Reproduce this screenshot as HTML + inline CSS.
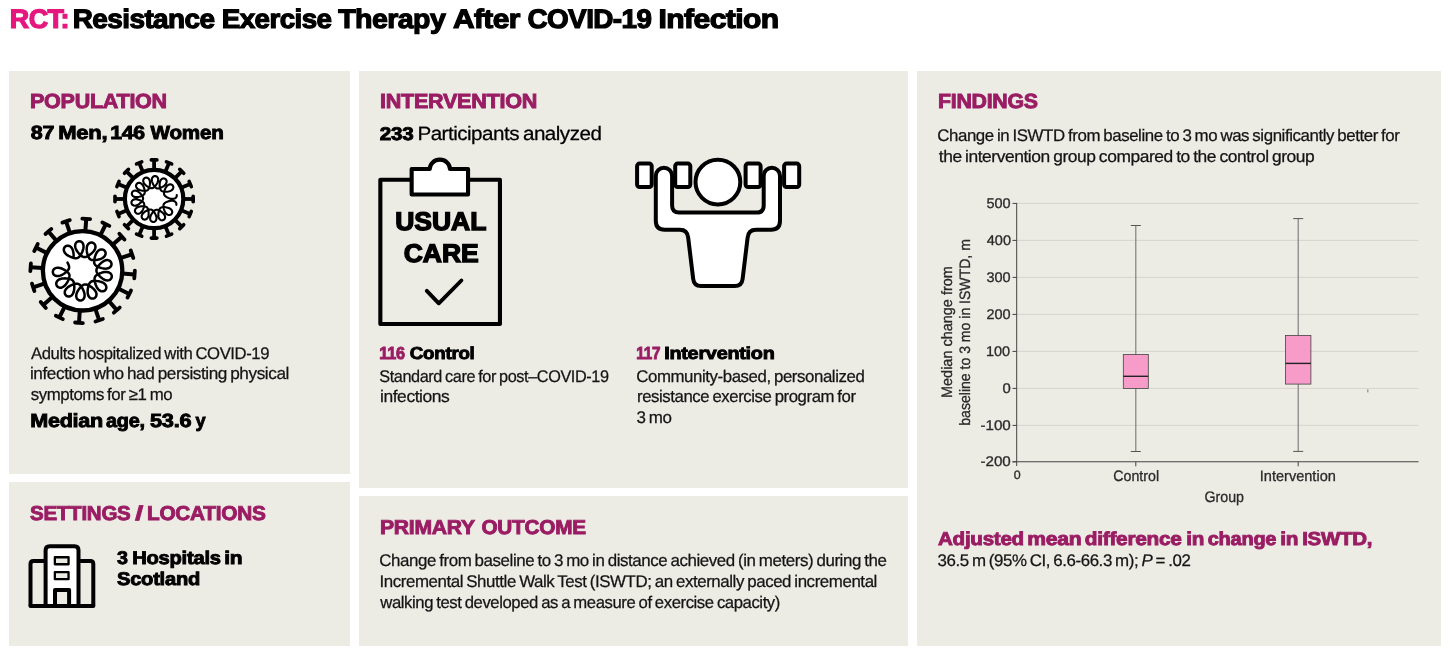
<!DOCTYPE html>
<html lang="en">
<head>
<meta charset="utf-8">
<title>RCT: Resistance Exercise Therapy After COVID-19 Infection</title>
<style>
html,body{margin:0;padding:0;background:#fff;}
body{width:1449px;height:655px;position:relative;overflow:hidden;font-family:"Liberation Sans",Arial,sans-serif;color:#141414;}
.panel{position:absolute;background:#ecebe4;margin:0;}
h1,h2,p{margin:0;padding:0;font-size:0;line-height:0;font-weight:400;}
.t{position:absolute;margin:0;padding:0;white-space:nowrap;text-rendering:geometricPrecision;transform-origin:0 0;font-style:normal;display:block;}
.t i{font-style:italic;}
.t b{font-weight:inherit;}
svg{position:absolute;overflow:visible;}
</style>
</head>
<body>

<header>
<h1>
<span class="t" style="left:10.60px;top:29.10px;font-size:26.81px;line-height:33px;font-weight:700;color:#e5177f;transform:scaleX(1.0044) translate(-1.25px,-25.54px);-webkit-text-stroke:1.2px #e5177f;letter-spacing:-0.02em;">RCT:</span>
 
<span class="t" style="left:74.20px;top:29.10px;font-size:26.81px;line-height:33px;font-weight:700;color:#000;transform:scaleX(1.0415) translate(-1.25px,-25.54px);-webkit-text-stroke:1.2px #000;letter-spacing:-0.02em;">Resistance</span>
 
<span class="t" style="left:223.00px;top:29.10px;font-size:26.81px;line-height:33px;font-weight:700;color:#000;transform:scaleX(1.0352) translate(-1.25px,-25.54px);-webkit-text-stroke:1.2px #000;letter-spacing:-0.02em;">Exercise</span>
 
<span class="t" style="left:338.30px;top:29.10px;font-size:26.81px;line-height:33px;font-weight:700;color:#000;transform:scaleX(1.0647) translate(0.25px,-25.54px);-webkit-text-stroke:1.2px #000;letter-spacing:-0.02em;">Therapy</span>
 
<span class="t" style="left:453.40px;top:29.10px;font-size:26.81px;line-height:33px;font-weight:700;color:#000;transform:scaleX(1.1157) translate(-0.00px,-25.54px);-webkit-text-stroke:1.2px #000;letter-spacing:-0.02em;">After</span>
 
<span class="t" style="left:527.80px;top:29.10px;font-size:26.81px;line-height:33px;font-weight:700;color:#000;transform:scaleX(1.0387) translate(-0.50px,-25.54px);-webkit-text-stroke:1.2px #000;letter-spacing:-0.02em;">COVID-19</span>
 
<span class="t" style="left:659.70px;top:29.10px;font-size:26.81px;line-height:33px;font-weight:700;color:#000;transform:scaleX(1.1219) translate(-1.25px,-25.54px);-webkit-text-stroke:1.2px #000;letter-spacing:-0.02em;">Infection</span>
</h1>
</header>
<main>
<section class="panel" id="p1" style="left:9px;top:71px;width:341px;height:403px">
<svg style="left:0;top:0" width="341" height="403" viewBox="9 71 341 403">
<g>
<line x1="154.10" y1="169.80" x2="154.10" y2="159.90" stroke="#000" stroke-width="3.8"/>
<line x1="151.30" y1="159.90" x2="156.90" y2="159.90" stroke="#000" stroke-width="3.6" stroke-linecap="round"/>
<line x1="165.27" y1="172.02" x2="169.06" y2="162.88" stroke="#000" stroke-width="3.8"/>
<line x1="166.48" y1="161.80" x2="171.65" y2="163.95" stroke="#000" stroke-width="3.6" stroke-linecap="round"/>
<line x1="174.75" y1="178.35" x2="181.75" y2="171.35" stroke="#000" stroke-width="3.8"/>
<line x1="179.77" y1="169.37" x2="183.73" y2="173.33" stroke="#000" stroke-width="3.6" stroke-linecap="round"/>
<line x1="181.08" y1="187.83" x2="190.22" y2="184.04" stroke="#000" stroke-width="3.8"/>
<line x1="189.15" y1="181.45" x2="191.30" y2="186.62" stroke="#000" stroke-width="3.6" stroke-linecap="round"/>
<line x1="183.30" y1="199.00" x2="193.20" y2="199.00" stroke="#000" stroke-width="3.8"/>
<line x1="193.20" y1="196.20" x2="193.20" y2="201.80" stroke="#000" stroke-width="3.6" stroke-linecap="round"/>
<line x1="181.08" y1="210.17" x2="190.22" y2="213.96" stroke="#000" stroke-width="3.8"/>
<line x1="191.30" y1="211.38" x2="189.15" y2="216.55" stroke="#000" stroke-width="3.6" stroke-linecap="round"/>
<line x1="174.75" y1="219.65" x2="181.75" y2="226.65" stroke="#000" stroke-width="3.8"/>
<line x1="183.73" y1="224.67" x2="179.77" y2="228.63" stroke="#000" stroke-width="3.6" stroke-linecap="round"/>
<line x1="165.27" y1="225.98" x2="169.06" y2="235.12" stroke="#000" stroke-width="3.8"/>
<line x1="171.65" y1="234.05" x2="166.48" y2="236.20" stroke="#000" stroke-width="3.6" stroke-linecap="round"/>
<line x1="154.10" y1="228.20" x2="154.10" y2="238.10" stroke="#000" stroke-width="3.8"/>
<line x1="156.90" y1="238.10" x2="151.30" y2="238.10" stroke="#000" stroke-width="3.6" stroke-linecap="round"/>
<line x1="142.93" y1="225.98" x2="139.14" y2="235.12" stroke="#000" stroke-width="3.8"/>
<line x1="141.72" y1="236.20" x2="136.55" y2="234.05" stroke="#000" stroke-width="3.6" stroke-linecap="round"/>
<line x1="133.45" y1="219.65" x2="126.45" y2="226.65" stroke="#000" stroke-width="3.8"/>
<line x1="128.43" y1="228.63" x2="124.47" y2="224.67" stroke="#000" stroke-width="3.6" stroke-linecap="round"/>
<line x1="127.12" y1="210.17" x2="117.98" y2="213.96" stroke="#000" stroke-width="3.8"/>
<line x1="119.05" y1="216.55" x2="116.90" y2="211.38" stroke="#000" stroke-width="3.6" stroke-linecap="round"/>
<line x1="124.90" y1="199.00" x2="115.00" y2="199.00" stroke="#000" stroke-width="3.8"/>
<line x1="115.00" y1="201.80" x2="115.00" y2="196.20" stroke="#000" stroke-width="3.6" stroke-linecap="round"/>
<line x1="127.12" y1="187.83" x2="117.98" y2="184.04" stroke="#000" stroke-width="3.8"/>
<line x1="116.90" y1="186.62" x2="119.05" y2="181.45" stroke="#000" stroke-width="3.6" stroke-linecap="round"/>
<line x1="133.45" y1="178.35" x2="126.45" y2="171.35" stroke="#000" stroke-width="3.8"/>
<line x1="124.47" y1="173.33" x2="128.43" y2="169.37" stroke="#000" stroke-width="3.6" stroke-linecap="round"/>
<line x1="142.93" y1="172.02" x2="139.14" y2="162.88" stroke="#000" stroke-width="3.8"/>
<line x1="136.55" y1="163.95" x2="141.72" y2="161.80" stroke="#000" stroke-width="3.6" stroke-linecap="round"/>
<circle cx="154.1" cy="199.0" r="29.2" fill="#fff" stroke="#000" stroke-width="4.2"/>
<path d="M176.32 204.95 L176.42 204.24 L176.35 203.53 L176.11 202.85 L175.71 202.22 L175.17 201.69 L174.50 201.27 L173.73 200.97 L172.87 200.79 L171.96 200.73 L171.01 200.77 L170.05 200.90 L169.10 201.11 L168.18 201.38 L167.30 201.69 L166.49 202.03 L165.76 202.39 L165.12 202.78 L164.58 203.20 L164.15 203.65 L163.82 204.14 L163.60 204.69 L163.47 205.31 L163.43 205.99 L163.46 206.73 L163.57 207.54 L163.75 208.40 L163.99 209.30 L164.28 210.21 L164.65 211.11 L165.07 211.98 L165.57 212.79 L166.14 213.51 L166.77 214.12 L167.45 214.59 L168.18 214.91 L168.92 215.06 L169.66 215.04 L170.36 214.85 L170.99 214.50 L171.52 214.02 L171.92 213.43 L172.17 212.75 L172.25 212.03 L172.16 211.30 L171.91 210.59 L171.48 209.91 L170.92 209.30 L170.23 208.77 L169.43 208.32 L168.56 207.94 L167.63 207.65 L166.69 207.42 L165.74 207.26 L164.82 207.16 L163.94 207.11 L163.13 207.12 L162.38 207.20 L161.72 207.34 L161.13 207.56 L160.62 207.86 L160.18 208.26 L159.79 208.75 L159.46 209.35 L159.17 210.04 L158.92 210.81 L158.70 211.66 L158.52 212.57 L158.40 213.52 L158.33 214.49 L158.34 215.46 L158.43 216.41 L158.63 217.30 L158.93 218.12 L159.35 218.84 L159.86 219.45 L160.47 219.91 L161.14 220.21 L161.85 220.34 L162.57 220.30 L163.26 220.10 L163.87 219.74 L164.39 219.24 L164.78 218.63 L165.02 217.93 L165.10 217.17 L165.01 216.39 L164.77 215.59 L164.37 214.81 L163.86 214.05 L163.23 213.34 L162.53 212.67 L161.77 212.06 L160.99 211.50 L160.21 211.01 L159.44 210.59 L158.70 210.24 L158.00 209.98 L157.34 209.82 L156.71 209.76 L156.12 209.81 L155.55 209.98 L154.99 210.26 L154.43 210.65 L153.87 211.14 L153.30 211.73 L152.74 212.40 L152.18 213.15 L151.66 213.95 L151.17 214.79 L150.76 215.67 L150.43 216.56 L150.22 217.45 L150.14 218.32 L150.20 219.15 L150.40 219.92 L150.75 220.60 L151.22 221.16 L151.81 221.59 L152.47 221.87 L153.17 221.98 L153.89 221.93 L154.57 221.70 L155.18 221.32 L155.70 220.80 L156.10 220.15 L156.37 219.40 L156.49 218.58 L156.48 217.70 L156.34 216.80 L156.09 215.88 L155.75 214.98 L155.33 214.10 L154.87 213.26 L154.38 212.47 L153.87 211.76 L153.35 211.12 L152.83 210.58 L152.31 210.15 L151.77 209.83 L151.22 209.62 L150.63 209.52 L150.00 209.52 L149.33 209.63 L148.61 209.84 L147.85 210.12 L147.05 210.48 L146.22 210.91 L145.40 211.40 L144.60 211.95 L143.84 212.56 L143.17 213.22 L142.59 213.93 L142.13 214.68 L141.82 215.45 L141.68 216.23 L141.69 216.99 L141.87 217.71 L142.21 218.35 L142.69 218.88 L143.27 219.29 L143.94 219.55 L144.65 219.65 L145.37 219.57 L146.07 219.32 L146.71 218.92 L147.27 218.36 L147.74 217.67 L148.11 216.88 L148.38 216.00 L148.55 215.07 L148.64 214.10 L148.65 213.13 L148.60 212.17 L148.50 211.25 L148.35 210.39 L148.16 209.59 L147.92 208.88 L147.64 208.26 L147.30 207.74 L146.89 207.31 L146.40 206.96 L145.84 206.70 L145.18 206.50 L144.45 206.37 L143.63 206.30 L142.76 206.27 L141.83 206.30 L140.88 206.38 L139.91 206.53 L138.97 206.75 L138.07 207.05 L137.24 207.44 L136.51 207.92 L135.89 208.48 L135.42 209.12 L135.11 209.81 L134.96 210.53 L134.98 211.25 L135.18 211.95 L135.53 212.57 L136.02 213.09 L136.62 213.49 L137.30 213.73 L138.03 213.81 L138.79 213.72 L139.54 213.46 L140.26 213.05 L140.94 212.50 L141.56 211.82 L142.12 211.06 L142.61 210.23 L143.05 209.36 L143.42 208.47 L143.73 207.60 L143.97 206.75 L144.14 205.96 L144.24 205.21 L144.25 204.53 L144.18 203.91 L143.99 203.35 L143.71 202.82 L143.31 202.34 L142.81 201.88 L142.20 201.44 L141.50 201.02 L140.72 200.62 L139.88 200.24 L138.98 199.90 L138.05 199.61 L137.10 199.40 L136.16 199.28 L135.25 199.27 L134.38 199.38 L133.58 199.62 L132.88 199.99 L132.30 200.47 L131.85 201.06 L131.56 201.72 L131.43 202.43 L131.48 203.15 L131.69 203.83 L132.06 204.45 L132.56 204.96 L133.19 205.35 L133.91 205.60 L134.70 205.69 L135.53 205.64 L136.38 205.43 L137.23 205.10 L138.07 204.65 L138.88 204.12 L139.64 203.52 L140.36 202.89 L141.02 202.23 L141.61 201.58 L142.11 200.94 L142.52 200.31 L142.83 199.70 L143.03 199.11 L143.11 198.52 L143.08 197.93 L142.93 197.32 L142.68 196.69 L142.32 196.03 L141.88 195.34 L141.35 194.64 L140.75 193.93 L140.09 193.24 L139.38 192.58 L138.62 191.97 L137.82 191.46 L137.00 191.05 L136.17 190.77 L135.35 190.64 L134.56 190.66 L133.82 190.85 L133.17 191.18 L132.61 191.65 L132.19 192.24 L131.92 192.90 L131.82 193.61 L131.88 194.32 L132.11 195.01 L132.51 195.63 L133.05 196.17 L133.71 196.59 L134.49 196.90 L135.34 197.09 L136.26 197.16 L137.20 197.12 L138.16 196.99 L139.12 196.79 L140.04 196.53 L140.92 196.22 L141.73 195.89 L142.46 195.53 L143.10 195.15 L143.64 194.73 L144.08 194.28 L144.41 193.79 L144.64 193.24 L144.77 192.63 L144.82 191.95 L144.79 191.20 L144.68 190.39 L144.51 189.53 L144.28 188.63 L143.99 187.72 L143.64 186.81 L143.21 185.94 L142.72 185.13 L142.16 184.41 L141.53 183.80 L140.85 183.32 L140.13 183.00 L139.38 182.84 L138.65 182.86 L137.95 183.04 L137.31 183.39 L136.78 183.86 L136.38 184.45 L136.12 185.13 L136.04 185.85 L136.12 186.58 L136.37 187.30 L136.79 187.97 L137.35 188.58 L138.04 189.12 L138.83 189.58 L139.70 189.96 L140.62 190.26 L141.57 190.49 L142.51 190.66 L143.43 190.77 L144.31 190.82 L145.13 190.81 L145.87 190.75 L146.54 190.61 L147.13 190.40 L147.64 190.10 L148.09 189.70 L148.47 189.21 L148.81 188.62 L149.10 187.93 L149.36 187.16 L149.58 186.31 L149.77 185.40 L149.90 184.45 L149.97 183.48 L149.97 182.51 L149.88 181.56 L149.69 180.67 L149.39 179.85 L148.99 179.12 L148.47 178.52 L147.87 178.05 L147.20 177.75 L146.49 177.61 L145.77 177.64 L145.08 177.84 L144.46 178.20 L143.94 178.69 L143.55 179.30 L143.31 180.00 L143.22 180.75 L143.31 181.54 L143.55 182.34 L143.93 183.12 L144.45 183.88 L145.07 184.60 L145.76 185.27 L146.51 185.89 L147.29 186.45 L148.07 186.95 L148.84 187.38 L149.58 187.73 L150.28 187.99 L150.94 188.16 L151.56 188.22 L152.15 188.17 L152.73 188.01 L153.29 187.74 L153.85 187.35 L154.41 186.86 L154.98 186.27 L155.55 185.61 L156.11 184.87 L156.65 184.07 L157.13 183.23 L157.55 182.35 L157.88 181.46 L158.10 180.58 L158.19 179.70 L158.14 178.87 L157.94 178.11 L157.60 177.43 L157.13 176.86 L156.55 176.43 L155.89 176.14 L155.18 176.03 L154.47 176.08 L153.78 176.30 L153.16 176.67 L152.64 177.19 L152.24 177.84 L151.97 178.58 L151.84 179.41 L151.85 180.28 L151.98 181.19 L152.22 182.10 L152.56 183.01 L152.97 183.90 L153.42 184.74 L153.91 185.53 L154.42 186.25 L154.93 186.88 L155.44 187.42 L155.97 187.86 L156.50 188.19 L157.05 188.40 L157.64 188.51 L158.27 188.50 L158.94 188.40 L159.66 188.20 L160.43 187.92 L161.23 187.57 L162.06 187.15 L162.88 186.66 L163.69 186.11 L164.45 185.51 L165.13 184.85 L165.71 184.15 L166.17 183.40 L166.49 182.63 L166.64 181.85 L166.63 181.09 L166.45 180.38 L166.12 179.73 L165.65 179.19 L165.06 178.78 L164.40 178.52 L163.69 178.42 L162.96 178.49 L162.27 178.73 L161.62 179.13 L161.06 179.69 L160.58 180.37 L160.21 181.16 L159.93 182.04 L159.76 182.97 L159.66 183.93 L159.65 184.91 L159.69 185.86 L159.79 186.79 L159.93 187.65 L160.11 188.45 L160.34 189.16 L160.62 189.78 L160.96 190.31 L161.37 190.74 L161.85 191.09 L162.42 191.36 L163.07 191.56 L163.80 191.69 L164.61 191.78 L165.49 191.81 L166.42 191.78 L167.37 191.71 L168.34 191.56 L169.28 191.35 L170.18 191.06 L171.02 190.67 L171.75 190.20 L172.37 189.64 L172.85 189.01 L173.17 188.32 L173.32 187.60 L173.30 186.87 L173.11 186.18 L172.76 185.56 L172.28 185.03 L171.68 184.63 L171.00 184.38 L170.27 184.30 L169.51 184.38 L168.76 184.63 L168.04 185.04 L167.36 185.59 L166.73 186.26 L166.16 187.02 L165.66 187.85 L165.22 188.72 L164.85 189.60 L164.53 190.47 L164.28 191.31 L164.10 192.11 L164.00 192.85 L163.98 193.53 L164.06 194.15 L164.23 194.72 L164.52 195.25 L164.91 195.73 L165.41 196.19 L166.01 196.64 L166.71 197.06 L167.49 197.47 L168.33 197.86 L169.22 198.20 L170.15 198.49 L171.10 198.71 L172.04 198.84 L172.95 198.85 L173.82 198.75 L174.62 198.52 L175.33 198.15 L175.91 197.67 L176.36 197.09 L176.66 196.43 L176.79 195.72 L176.75 195.01" fill="none" stroke="#000" stroke-width="2.1" stroke-linecap="round" stroke-linejoin="round"/>
</g>
<g>
<line x1="85.37" y1="231.20" x2="86.23" y2="218.83" stroke="#000" stroke-width="4.0"/>
<line x1="82.34" y1="218.55" x2="90.12" y2="219.10" stroke="#000" stroke-width="3.8" stroke-linecap="round"/>
<line x1="100.31" y1="235.27" x2="105.85" y2="224.17" stroke="#000" stroke-width="4.0"/>
<line x1="102.36" y1="222.43" x2="109.34" y2="225.91" stroke="#000" stroke-width="3.8" stroke-linecap="round"/>
<line x1="112.56" y1="244.75" x2="121.92" y2="236.62" stroke="#000" stroke-width="4.0"/>
<line x1="119.36" y1="233.68" x2="124.48" y2="239.56" stroke="#000" stroke-width="3.8" stroke-linecap="round"/>
<line x1="120.25" y1="258.20" x2="132.01" y2="254.27" stroke="#000" stroke-width="4.0"/>
<line x1="130.77" y1="250.57" x2="133.25" y2="257.97" stroke="#000" stroke-width="3.8" stroke-linecap="round"/>
<line x1="122.20" y1="273.57" x2="134.57" y2="274.43" stroke="#000" stroke-width="4.0"/>
<line x1="134.85" y1="270.54" x2="134.30" y2="278.32" stroke="#000" stroke-width="3.8" stroke-linecap="round"/>
<line x1="118.13" y1="288.51" x2="129.23" y2="294.05" stroke="#000" stroke-width="4.0"/>
<line x1="130.97" y1="290.56" x2="127.49" y2="297.54" stroke="#000" stroke-width="3.8" stroke-linecap="round"/>
<line x1="108.65" y1="300.76" x2="116.78" y2="310.12" stroke="#000" stroke-width="4.0"/>
<line x1="119.72" y1="307.56" x2="113.84" y2="312.68" stroke="#000" stroke-width="3.8" stroke-linecap="round"/>
<line x1="95.20" y1="308.45" x2="99.13" y2="320.21" stroke="#000" stroke-width="4.0"/>
<line x1="102.83" y1="318.97" x2="95.43" y2="321.45" stroke="#000" stroke-width="3.8" stroke-linecap="round"/>
<line x1="79.83" y1="310.40" x2="78.97" y2="322.77" stroke="#000" stroke-width="4.0"/>
<line x1="82.86" y1="323.05" x2="75.08" y2="322.50" stroke="#000" stroke-width="3.8" stroke-linecap="round"/>
<line x1="64.89" y1="306.33" x2="59.35" y2="317.43" stroke="#000" stroke-width="4.0"/>
<line x1="62.84" y1="319.17" x2="55.86" y2="315.69" stroke="#000" stroke-width="3.8" stroke-linecap="round"/>
<line x1="52.64" y1="296.85" x2="43.28" y2="304.98" stroke="#000" stroke-width="4.0"/>
<line x1="45.84" y1="307.92" x2="40.72" y2="302.04" stroke="#000" stroke-width="3.8" stroke-linecap="round"/>
<line x1="44.95" y1="283.40" x2="33.19" y2="287.33" stroke="#000" stroke-width="4.0"/>
<line x1="34.43" y1="291.03" x2="31.95" y2="283.63" stroke="#000" stroke-width="3.8" stroke-linecap="round"/>
<line x1="43.00" y1="268.03" x2="30.63" y2="267.17" stroke="#000" stroke-width="4.0"/>
<line x1="30.35" y1="271.06" x2="30.90" y2="263.28" stroke="#000" stroke-width="3.8" stroke-linecap="round"/>
<line x1="47.07" y1="253.09" x2="35.97" y2="247.55" stroke="#000" stroke-width="4.0"/>
<line x1="34.23" y1="251.04" x2="37.71" y2="244.06" stroke="#000" stroke-width="3.8" stroke-linecap="round"/>
<line x1="56.55" y1="240.84" x2="48.42" y2="231.48" stroke="#000" stroke-width="4.0"/>
<line x1="45.48" y1="234.04" x2="51.36" y2="228.92" stroke="#000" stroke-width="3.8" stroke-linecap="round"/>
<line x1="70.00" y1="233.15" x2="66.07" y2="221.39" stroke="#000" stroke-width="4.0"/>
<line x1="62.37" y1="222.63" x2="69.77" y2="220.15" stroke="#000" stroke-width="3.8" stroke-linecap="round"/>
<circle cx="82.6" cy="270.8" r="39.7" fill="#fff" stroke="#000" stroke-width="4.3"/>
<path d="M73.63 256.24 L73.61 255.01 L73.53 253.73 L73.36 252.45 L73.10 251.18 L72.73 249.97 L72.25 248.85 L71.64 247.85 L70.92 247.01 L70.09 246.36 L69.19 245.91 L68.23 245.69 L67.27 245.70 L66.35 245.94 L65.51 246.39 L64.80 247.02 L64.26 247.81 L63.92 248.71 L63.80 249.68 L63.91 250.69 L64.24 251.69 L64.78 252.65 L65.51 253.56 L66.40 254.40 L67.41 255.16 L68.51 255.84 L69.67 256.44 L70.84 256.96 L71.99 257.39 L73.10 257.75 L74.16 258.01 L75.13 258.17 L76.03 258.22 L76.85 258.15 L77.60 257.94 L78.29 257.59 L78.95 257.09 L79.57 256.44 L80.18 255.66 L80.78 254.76 L81.36 253.75 L81.92 252.64 L82.43 251.47 L82.88 250.25 L83.23 249.01 L83.47 247.76 L83.56 246.55 L83.48 245.38 L83.23 244.31 L82.79 243.34 L82.20 242.53 L81.45 241.89 L80.59 241.46 L79.66 241.24 L78.71 241.25 L77.79 241.49 L76.95 241.94 L76.23 242.58 L75.67 243.39 L75.31 244.33 L75.14 245.37 L75.17 246.48 L75.40 247.62 L75.80 248.77 L76.35 249.92 L77.01 251.03 L77.76 252.09 L78.56 253.09 L79.38 254.01 L80.21 254.84 L81.02 255.55 L81.81 256.15 L82.58 256.61 L83.34 256.92 L84.10 257.08 L84.88 257.09 L85.69 256.95 L86.54 256.67 L87.45 256.26 L88.39 255.73 L89.38 255.10 L90.38 254.38 L91.38 253.58 L92.34 252.70 L93.22 251.76 L94.01 250.77 L94.65 249.73 L95.12 248.66 L95.39 247.59 L95.45 246.54 L95.29 245.54 L94.93 244.63 L94.37 243.85 L93.64 243.23 L92.79 242.80 L91.87 242.58 L90.91 242.59 L89.98 242.83 L89.11 243.29 L88.35 243.95 L87.72 244.80 L87.24 245.80 L86.92 246.91 L86.74 248.12 L86.70 249.39 L86.77 250.68 L86.95 251.97 L87.19 253.22 L87.50 254.42 L87.85 255.53 L88.24 256.55 L88.66 257.44 L89.13 258.20 L89.67 258.83 L90.27 259.33 L90.95 259.69 L91.74 259.94 L92.62 260.09 L93.61 260.14 L94.70 260.11 L95.86 260.01 L97.08 259.83 L98.34 259.58 L99.59 259.24 L100.81 258.82 L101.97 258.30 L103.02 257.67 L103.92 256.94 L104.66 256.12 L105.20 255.21 L105.52 254.25 L105.62 253.28 L105.48 252.33 L105.13 251.44 L104.57 250.67 L103.85 250.05 L103.00 249.62 L102.06 249.40 L101.08 249.40 L100.10 249.64 L99.15 250.10 L98.26 250.76 L97.46 251.61 L96.74 252.60 L96.12 253.70 L95.59 254.88 L95.15 256.10 L94.79 257.33 L94.51 258.53 L94.30 259.68 L94.18 260.76 L94.15 261.75 L94.21 262.64 L94.39 263.45 L94.70 264.16 L95.14 264.80 L95.72 265.39 L96.44 265.93 L97.29 266.43 L98.27 266.90 L99.35 267.35 L100.51 267.76 L101.74 268.11 L103.01 268.40 L104.29 268.58 L105.55 268.65 L106.77 268.58 L107.91 268.35 L108.95 267.96 L109.85 267.41 L110.57 266.71 L111.11 265.89 L111.43 264.98 L111.52 264.03 L111.38 263.09 L111.03 262.20 L110.48 261.43 L109.75 260.80 L108.87 260.36 L107.89 260.11 L106.84 260.08 L105.75 260.26 L104.64 260.64 L103.55 261.18 L102.49 261.87 L101.48 262.68 L100.52 263.56 L99.63 264.48 L98.83 265.42 L98.12 266.34 L97.51 267.24 L97.02 268.10 L96.67 268.93 L96.46 269.72 L96.40 270.50 L96.49 271.27 L96.74 272.06 L97.13 272.87 L97.65 273.71 L98.30 274.58 L99.05 275.47 L99.89 276.37 L100.82 277.25 L101.81 278.09 L102.86 278.85 L103.95 279.49 L105.06 279.99 L106.18 280.32 L107.28 280.45 L108.33 280.37 L109.30 280.09 L110.16 279.61 L110.86 278.95 L111.38 278.15 L111.69 277.25 L111.79 276.30 L111.65 275.36 L111.29 274.47 L110.73 273.67 L109.97 273.00 L109.05 272.49 L108.00 272.14 L106.84 271.96 L105.62 271.94 L104.36 272.07 L103.09 272.31 L101.84 272.65 L100.63 273.06 L99.48 273.52 L98.42 274.01 L97.47 274.53 L96.64 275.07 L95.94 275.63 L95.39 276.24 L94.98 276.90 L94.70 277.63 L94.56 278.44 L94.53 279.34 L94.61 280.33 L94.78 281.40 L95.03 282.54 L95.37 283.73 L95.78 284.94 L96.27 286.14 L96.85 287.29 L97.52 288.37 L98.28 289.33 L99.12 290.13 L100.04 290.76 L101.01 291.17 L102.00 291.37 L102.98 291.33 L103.90 291.07 L104.73 290.61 L105.43 289.96 L105.95 289.16 L106.27 288.26 L106.36 287.30 L106.22 286.33 L105.86 285.39 L105.28 284.51 L104.51 283.71 L103.57 283.02 L102.49 282.44 L101.32 281.97 L100.08 281.60 L98.81 281.32 L97.55 281.13 L96.32 281.01 L95.15 280.95 L94.07 280.97 L93.08 281.07 L92.20 281.25 L91.43 281.53 L90.76 281.93 L90.18 282.45 L89.68 283.10 L89.24 283.88 L88.85 284.80 L88.51 285.82 L88.21 286.95 L87.96 288.16 L87.76 289.43 L87.65 290.72 L87.63 292.01 L87.72 293.27 L87.95 294.47 L88.33 295.58 L88.85 296.55 L89.52 297.37 L90.31 298.00 L91.19 298.42 L92.13 298.62 L93.09 298.59 L94.00 298.33 L94.83 297.87 L95.53 297.21 L96.06 296.41 L96.38 295.48 L96.50 294.48 L96.39 293.43 L96.07 292.37 L95.55 291.33 L94.87 290.32 L94.04 289.35 L93.12 288.45 L92.12 287.62 L91.09 286.86 L90.06 286.19 L89.05 285.60 L88.08 285.12 L87.16 284.75 L86.29 284.50 L85.48 284.40 L84.70 284.44 L83.94 284.63 L83.20 284.98 L82.45 285.47 L81.68 286.10 L80.90 286.85 L80.12 287.72 L79.33 288.67 L78.58 289.70 L77.88 290.80 L77.26 291.94 L76.77 293.10 L76.42 294.27 L76.24 295.42 L76.25 296.53 L76.47 297.56 L76.88 298.49 L77.47 299.27 L78.21 299.88 L79.07 300.29 L80.00 300.49 L80.95 300.46 L81.87 300.20 L82.71 299.73 L83.43 299.06 L83.99 298.22 L84.38 297.24 L84.59 296.15 L84.61 294.99 L84.47 293.78 L84.18 292.54 L83.78 291.31 L83.28 290.12 L82.71 288.97 L82.11 287.89 L81.48 286.90 L80.85 286.03 L80.20 285.27 L79.55 284.66 L78.87 284.19 L78.16 283.87 L77.41 283.69 L76.58 283.65 L75.69 283.74 L74.72 283.95 L73.68 284.26 L72.59 284.66 L71.45 285.14 L70.30 285.71 L69.18 286.36 L68.11 287.08 L67.13 287.89 L66.28 288.76 L65.59 289.71 L65.09 290.69 L64.80 291.71 L64.74 292.72 L64.90 293.68 L65.28 294.57 L65.85 295.33 L66.59 295.93 L67.45 296.34 L68.38 296.54 L69.34 296.51 L70.29 296.25 L71.17 295.77 L71.97 295.08 L72.66 294.21 L73.22 293.19 L73.65 292.04 L73.97 290.82 L74.17 289.54 L74.28 288.25 L74.31 286.97 L74.27 285.73 L74.17 284.57 L74.01 283.50 L73.79 282.53 L73.49 281.68 L73.11 280.96 L72.63 280.34 L72.04 279.84 L71.33 279.42 L70.49 279.09 L69.54 278.82 L68.48 278.62 L67.32 278.47 L66.09 278.38 L64.81 278.35 L63.51 278.40 L62.23 278.55 L60.99 278.81 L59.83 279.20 L58.78 279.71 L57.88 280.36 L57.16 281.13 L56.64 281.99 L56.34 282.92 L56.26 283.88 L56.42 284.83 L56.79 285.70 L57.36 286.46 L58.10 287.07 L58.97 287.48 L59.93 287.69 L60.94 287.67 L61.96 287.43 L62.97 286.97 L63.94 286.32 L64.85 285.51 L65.70 284.57 L66.47 283.53 L67.17 282.43 L67.78 281.31 L68.32 280.20 L68.77 279.12 L69.12 278.10 L69.37 277.14 L69.50 276.25 L69.49 275.43 L69.35 274.66 L69.06 273.94 L68.62 273.24 L68.03 272.56 L67.31 271.89 L66.46 271.21 L65.50 270.55 L64.45 269.89 L63.33 269.28 L62.16 268.73 L60.95 268.27 L59.73 267.93 L58.52 267.73 L57.36 267.71 L56.26 267.87 L55.27 268.21 L54.40 268.74 L53.70 269.43 L53.20 270.24 L52.90 271.15 L52.83 272.10 L52.98 273.04 L53.36 273.92 L53.93 274.69 L54.69 275.31 L55.59 275.76 L56.62 276.02 L57.72 276.08 L58.88 275.95 L60.07 275.65 L61.25 275.21 L62.41 274.64 L63.54 273.99 L64.60 273.28 L65.59 272.54 L66.49 271.79 L67.27 271.05 L67.94 270.31 L68.46 269.58 L68.84 268.85 L69.07 268.11 L69.14 267.33 L69.07 266.51 L68.87 265.64 L68.54 264.71 L68.09 263.72 L67.55 262.68" fill="none" stroke="#000" stroke-width="2.5" stroke-linecap="round" stroke-linejoin="round"/>
</g>
</svg>
<h2>
<span class="t" style="left:21.90px;top:37.80px;font-size:20.43px;line-height:25px;font-weight:700;color:#9a1c63;transform:scaleX(1.0542) translate(-1.00px,-18.58px);-webkit-text-stroke:0.9px #9a1c63;letter-spacing:-0.012em;">POPULATION</span>
</h2>
<p>
<span class="t" style="left:21.90px;top:69.10px;font-size:18.99px;line-height:23px;font-weight:700;color:#000;transform:scaleX(1.1309) translate(-0.25px,-17.58px);-webkit-text-stroke:0.9px #000;letter-spacing:-0.012em;">87</span>
 
<span class="t" style="left:49.80px;top:69.10px;font-size:18.99px;line-height:23px;font-weight:700;color:#000;transform:scaleX(1.1610) translate(-0.75px,-17.58px);-webkit-text-stroke:0.9px #000;letter-spacing:-0.012em;">Men,</span>
 
<span class="t" style="left:101.90px;top:69.10px;font-size:18.99px;line-height:23px;font-weight:700;color:#000;transform:scaleX(1.1174) translate(-0.75px,-17.58px);-webkit-text-stroke:0.9px #000;letter-spacing:-0.012em;">146</span>
 
<span class="t" style="left:140.50px;top:69.10px;font-size:18.99px;line-height:23px;font-weight:700;color:#000;transform:scaleX(1.0881) translate(0.50px,-17.58px);-webkit-text-stroke:0.9px #000;letter-spacing:-0.012em;">Women</span>
</p>
<p>
<span class="t" style="left:21.60px;top:287.70px;font-size:16.88px;line-height:21px;font-weight:400;color:#141414;transform:scaleX(0.9888) translate(-0.00px,-16.10px);-webkit-text-stroke:0.25px #141414;letter-spacing:-0.025em;word-spacing:-0.06em;">Adults hospitalized with COVID-19</span>
</p>
<p>
<span class="t" style="left:22.00px;top:308.40px;font-size:16.88px;line-height:21px;font-weight:400;color:#141414;transform:scaleX(1.0194) translate(-1.00px,-16.10px);-webkit-text-stroke:0.25px #141414;letter-spacing:-0.025em;word-spacing:-0.06em;">infection who had persisting physical</span>
</p>
<p>
<span class="t" style="left:21.60px;top:329.20px;font-size:16.88px;line-height:21px;font-weight:400;color:#141414;transform:scaleX(0.9958) translate(-0.25px,-16.10px);-webkit-text-stroke:0.25px #141414;letter-spacing:-0.025em;word-spacing:-0.06em;">symptoms for ≥1 mo</span>
</p>
<p>
<span class="t" style="left:21.50px;top:356.50px;font-size:18.99px;line-height:23px;font-weight:700;color:#000;transform:scaleX(1.1378) translate(-0.75px,-17.58px);-webkit-text-stroke:0.9px #000;letter-spacing:-0.012em;">Median</span>
 
<span class="t" style="left:97.40px;top:356.50px;font-size:18.99px;line-height:23px;font-weight:700;color:#000;transform:scaleX(1.0493) translate(-0.00px,-17.58px);-webkit-text-stroke:0.9px #000;letter-spacing:-0.012em;">age,</span>
 
<span class="t" style="left:140.50px;top:356.50px;font-size:18.99px;line-height:23px;font-weight:700;color:#000;transform:scaleX(1.1472) translate(-0.00px,-17.58px);-webkit-text-stroke:0.9px #000;letter-spacing:-0.012em;">53.6</span>
 
<span class="t" style="left:185.80px;top:356.50px;font-size:18.99px;line-height:23px;font-weight:700;color:#000;transform:scaleX(0.9565) translate(0.50px,-17.58px);-webkit-text-stroke:0.9px #000;letter-spacing:-0.012em;">y</span>
</p>
</section>
<section class="panel" id="p2" style="left:9px;top:482px;width:341px;height:164px">
<svg style="left:0;top:0" width="341" height="164" viewBox="9 482 341 164">
<path d="M30.5 606.0 L30.5 564.1 Q30.5 561.1 33.5 561.1 L45.6 561.1 M78.5 561.1 L90.3 561.1 Q93.3 561.1 93.3 564.1 L93.3 606.0" fill="none" stroke="#000" stroke-width="4.0" stroke-linejoin="round"/>
<path d="M30.5 606.0 L93.3 606.0" fill="none" stroke="#000" stroke-width="4.0" stroke-linecap="round"/>
<path d="M45.6 606.0 L45.6 550.15 Q45.6 546.15 49.6 546.15 L74.5 546.15 Q78.5 546.15 78.5 550.15 L78.5 606.0 Z" fill="#fff" stroke="#000" stroke-width="4.0" stroke-linejoin="round"/>
<rect x="54.85" y="557.25" width="13.7" height="6.999999999999955" fill="#ecebe4" stroke="#000" stroke-width="2.3" stroke-linejoin="round"/>
<rect x="54.85" y="572.05" width="13.7" height="7.099999999999977" fill="#ecebe4" stroke="#000" stroke-width="2.3" stroke-linejoin="round"/>
<path d="M55.0 606.0 L55.0 590.0 L69.1 590.0 L69.1 606.0 Z" fill="#ecebe4" stroke="#000" stroke-width="4.0" stroke-linejoin="round"/>
</svg>
<h2>
<span class="t" style="left:21.40px;top:37.90px;font-size:20.14px;line-height:25px;font-weight:700;color:#9a1c63;transform:scaleX(1.0183) translate(-0.00px,-18.48px);-webkit-text-stroke:0.9px #9a1c63;letter-spacing:-0.012em;">SETTINGS</span>
 
<span class="t" style="left:126.20px;top:37.90px;font-size:20.14px;line-height:25px;font-weight:700;color:#9a1c63;transform:scaleX(1.4080) translate(0.25px,-18.48px);-webkit-text-stroke:0.9px #9a1c63;letter-spacing:-0.012em;">/</span>
 
<span class="t" style="left:138.70px;top:37.90px;font-size:20.14px;line-height:25px;font-weight:700;color:#9a1c63;transform:scaleX(1.0330) translate(-1.00px,-18.48px);-webkit-text-stroke:0.9px #9a1c63;letter-spacing:-0.012em;">LOCATIONS</span>
</h2>
<p>
<span class="t" style="left:108.00px;top:81.80px;font-size:18.41px;line-height:23px;font-weight:700;color:#000;transform:scaleX(1.0700) translate(-0.00px,-18.38px);-webkit-text-stroke:0.9px #000;letter-spacing:-0.012em;">3</span>
 
<span class="t" style="left:123.70px;top:81.80px;font-size:18.41px;line-height:23px;font-weight:700;color:#000;transform:scaleX(1.0950) translate(-0.75px,-18.38px);-webkit-text-stroke:0.9px #000;letter-spacing:-0.012em;">Hospitals</span>
 
<span class="t" style="left:216.30px;top:81.80px;font-size:18.41px;line-height:23px;font-weight:700;color:#000;transform:scaleX(1.1390) translate(-0.75px,-18.38px);-webkit-text-stroke:0.9px #000;letter-spacing:-0.012em;">in</span>
</p>
<p>
<span class="t" style="left:108.00px;top:102.60px;font-size:18.41px;line-height:23px;font-weight:700;color:#000;transform:scaleX(1.0927) translate(-0.00px,-18.38px);-webkit-text-stroke:0.9px #000;letter-spacing:-0.012em;">Scotland</span>
</p>
</section>
<section class="panel" id="p3" style="left:359px;top:71px;width:548.5px;height:417px">
<svg style="left:0;top:0" width="548.5" height="417" viewBox="359 71 548.5 417">
<rect x="380.35" y="179.75" width="119.59999999999997" height="144.2" fill="none" stroke="#000" stroke-width="4.1" stroke-linejoin="round"/>
<path d="M411.65000000000003 194.54999999999998 L411.65000000000003 169.05 L429.75 169.05 A10.099999999999994 9.400000000000006 0 0 1 449.95 169.05 L468.05 169.05 L468.05 194.54999999999998 Z" fill="#fff" stroke="#000" stroke-width="4.1" stroke-linejoin="round"/>
<path d="M426.8 290.8 L438.8 303.3 L461.4 280.5" fill="none" stroke="#000" stroke-width="3.9" stroke-linecap="round" stroke-linejoin="round"/>
<!--USUAL-->
<rect x="637.1" y="163.6" width="14.600000000000023" height="23.400000000000006" rx="2.5" fill="#fff" stroke="#000" stroke-width="4.0"/>
<rect x="675.2" y="163.6" width="15.099999999999909" height="23.400000000000006" rx="2.5" fill="#fff" stroke="#000" stroke-width="4.0"/>
<rect x="745.6" y="163.6" width="15.0" height="23.400000000000006" rx="2.5" fill="#fff" stroke="#000" stroke-width="4.0"/>
<rect x="784.1" y="163.6" width="15.100000000000023" height="23.400000000000006" rx="2.5" fill="#fff" stroke="#000" stroke-width="4.0"/>
<path d="M672.10 175.95 A8.15 8.15 0 0 0 655.80 175.95 L655.80 220.80 Q655.80 229.80 664.80 229.80 L679.90 229.80 Q687.40 229.80 688.20 237.80 L693.20 279.00 Q694.00 286.00 701.00 286.00 L734.80 286.00 Q741.80 286.00 742.60 279.00 L747.60 237.80 Q748.40 229.80 755.90 229.80 L771.00 229.80 Q780.00 229.80 780.00 220.80 L780.00 175.95 A8.15 8.15 0 0 0 763.70 175.95 L763.70 205.60 Q763.70 212.60 756.70 212.60 L679.10 212.60 Q672.10 212.60 672.10 205.60 Z" fill="#fff" stroke="#000" stroke-width="4.0" stroke-linejoin="round"/>
<circle cx="717.9" cy="182.1" r="22.4" fill="#fff" stroke="#000" stroke-width="4.0"/>
</svg>
<h2>
<span class="t" style="left:21.80px;top:37.80px;font-size:20.43px;line-height:25px;font-weight:700;color:#9a1c63;transform:scaleX(1.0565) translate(-1.00px,-18.58px);-webkit-text-stroke:0.9px #9a1c63;letter-spacing:-0.012em;">INTERVENTION</span>
</h2>
<p>
<span class="t" style="left:21.30px;top:68.90px;font-size:18.41px;line-height:23px;font-weight:700;color:#000;transform:scaleX(1.1193) translate(-0.25px,-18.38px);-webkit-text-stroke:0.9px #000;letter-spacing:-0.012em;"><b>233</b></span>
</p>
<p>
<span class="t" style="left:60.20px;top:68.90px;font-size:19.35px;line-height:24px;font-weight:400;color:#000;transform:scaleX(1.0661) translate(-1.50px,-17.95px);-webkit-text-stroke:0.25px #000;letter-spacing:-0.025em;word-spacing:-0.06em;">Participants analyzed</span>
</p>
<p>
<span class="t" style="left:21.40px;top:289.00px;font-size:17.39px;line-height:21px;font-weight:700;color:#9a1c63;transform:scaleX(0.9346) translate(-0.75px,-16.53px);-webkit-text-stroke:0.9px #9a1c63;letter-spacing:-0.012em;">116</span>
 
<span class="t" style="left:51.20px;top:289.00px;font-size:17.39px;line-height:21px;font-weight:700;color:#000;transform:scaleX(1.0756) translate(-0.25px,-16.53px);-webkit-text-stroke:0.9px #000;letter-spacing:-0.012em;">Control</span>
</p>
<p>
<span class="t" style="left:21.30px;top:310.70px;font-size:16.88px;line-height:21px;font-weight:400;color:#141414;transform:scaleX(0.9639) translate(-0.75px,-16.10px);-webkit-text-stroke:0.25px #141414;letter-spacing:-0.025em;word-spacing:-0.06em;">Standard care for post–COVID-19</span>
</p>
<p>
<span class="t" style="left:21.90px;top:331.30px;font-size:16.88px;line-height:21px;font-weight:400;color:#141414;transform:scaleX(1.0364) translate(-1.00px,-16.10px);-webkit-text-stroke:0.25px #141414;letter-spacing:-0.025em;word-spacing:-0.06em;">infections</span>
</p>
<p>
<span class="t" style="left:278.40px;top:289.00px;font-size:17.39px;line-height:21px;font-weight:700;color:#9a1c63;transform:scaleX(0.8755) translate(-0.75px,-16.53px);-webkit-text-stroke:0.9px #9a1c63;letter-spacing:-0.012em;">117</span>
 
<span class="t" style="left:306.20px;top:289.00px;font-size:17.39px;line-height:21px;font-weight:700;color:#000;transform:scaleX(1.1394) translate(-0.75px,-16.53px);-webkit-text-stroke:0.9px #000;letter-spacing:-0.012em;">Intervention</span>
</p>
<p>
<span class="t" style="left:278.20px;top:310.70px;font-size:16.88px;line-height:21px;font-weight:400;color:#141414;transform:scaleX(0.9980) translate(-0.75px,-16.10px);-webkit-text-stroke:0.25px #141414;letter-spacing:-0.025em;word-spacing:-0.06em;">Community-based, personalized</span>
</p>
<p>
<span class="t" style="left:278.50px;top:331.30px;font-size:16.88px;line-height:21px;font-weight:400;color:#141414;transform:scaleX(0.9938) translate(-1.00px,-16.10px);-webkit-text-stroke:0.25px #141414;letter-spacing:-0.025em;word-spacing:-0.06em;">resistance exercise program for</span>
</p>
<p>
<span class="t" style="left:278.20px;top:352.30px;font-size:16.88px;line-height:21px;font-weight:400;color:#141414;transform:scaleX(1.0059) translate(-0.50px,-16.10px);-webkit-text-stroke:0.25px #141414;letter-spacing:-0.025em;word-spacing:-0.06em;">3 mo</span>
</p>
<p>
<span class="t" style="left:37.20px;top:159.70px;font-size:25.36px;line-height:31px;font-weight:700;color:#000;transform:scaleX(1.0439) translate(-0.75px,-23.79px);-webkit-text-stroke:1.4px #000;">USUAL</span>
</p>
<p>
<span class="t" style="left:44.90px;top:192.00px;font-size:25.36px;line-height:31px;font-weight:700;color:#000;transform:scaleX(1.0442) translate(-0.25px,-23.79px);-webkit-text-stroke:1.4px #000;">CARE</span>
</p>
</section>
<section class="panel" id="p4" style="left:359px;top:496px;width:548.5px;height:150px">

<h2>
<span class="t" style="left:21.60px;top:38.00px;font-size:20.14px;line-height:25px;font-weight:700;color:#9a1c63;transform:scaleX(1.0511) translate(-1.00px,-18.48px);-webkit-text-stroke:0.9px #9a1c63;letter-spacing:-0.012em;">PRIMARY</span>
 
<span class="t" style="left:123.00px;top:38.00px;font-size:20.14px;line-height:25px;font-weight:700;color:#9a1c63;transform:scaleX(1.0308) translate(-0.50px,-18.48px);-webkit-text-stroke:0.9px #9a1c63;letter-spacing:-0.012em;">OUTCOME</span>
</h2>
<p>
<span class="t" style="left:21.00px;top:69.70px;font-size:16.88px;line-height:21px;font-weight:400;color:#141414;transform:scaleX(1.0029) translate(-0.75px,-16.10px);-webkit-text-stroke:0.25px #141414;letter-spacing:-0.025em;word-spacing:-0.06em;">Change from baseline to 3 mo in distance achieved (in meters) during the</span>
</p>
<p>
<span class="t" style="left:21.90px;top:90.70px;font-size:16.88px;line-height:21px;font-weight:400;color:#141414;transform:scaleX(1.0011) translate(-1.50px,-16.10px);-webkit-text-stroke:0.25px #141414;letter-spacing:-0.025em;word-spacing:-0.06em;">Incremental Shuttle Walk Test (ISWTD; an externally paced incremental</span>
</p>
<p>
<span class="t" style="left:21.20px;top:111.50px;font-size:16.88px;line-height:21px;font-weight:400;color:#141414;transform:scaleX(0.9903) translate(0.25px,-16.10px);-webkit-text-stroke:0.25px #141414;letter-spacing:-0.025em;word-spacing:-0.06em;">walking test developed as a measure of exercise capacity)</span>
</p>
</section>
<section class="panel" id="p5" style="left:917px;top:71px;width:524px;height:575px">
<svg style="left:0;top:0" width="524" height="575" viewBox="917 71 524 575">
<line x1="1016.7" y1="203.40" x2="1418.5" y2="203.40" stroke="#d6d5ce" stroke-width="1"/>
<line x1="1016.7" y1="240.40" x2="1418.5" y2="240.40" stroke="#d6d5ce" stroke-width="1"/>
<line x1="1016.7" y1="277.40" x2="1418.5" y2="277.40" stroke="#d6d5ce" stroke-width="1"/>
<line x1="1016.7" y1="314.40" x2="1418.5" y2="314.40" stroke="#d6d5ce" stroke-width="1"/>
<line x1="1016.7" y1="351.40" x2="1418.5" y2="351.40" stroke="#d6d5ce" stroke-width="1"/>
<line x1="1016.7" y1="388.40" x2="1418.5" y2="388.40" stroke="#d6d5ce" stroke-width="1"/>
<line x1="1016.7" y1="425.40" x2="1418.5" y2="425.40" stroke="#d6d5ce" stroke-width="1"/>
<line x1="1012.5" y1="203.40" x2="1016.7" y2="203.40" stroke="#444" stroke-width="1"/>
<line x1="1012.5" y1="240.40" x2="1016.7" y2="240.40" stroke="#444" stroke-width="1"/>
<line x1="1012.5" y1="277.40" x2="1016.7" y2="277.40" stroke="#444" stroke-width="1"/>
<line x1="1012.5" y1="314.40" x2="1016.7" y2="314.40" stroke="#444" stroke-width="1"/>
<line x1="1012.5" y1="351.40" x2="1016.7" y2="351.40" stroke="#444" stroke-width="1"/>
<line x1="1012.5" y1="388.40" x2="1016.7" y2="388.40" stroke="#444" stroke-width="1"/>
<line x1="1012.5" y1="425.40" x2="1016.7" y2="425.40" stroke="#444" stroke-width="1"/>
<line x1="1012.5" y1="461.80" x2="1016.7" y2="461.80" stroke="#444" stroke-width="1"/>
<line x1="1135.8" y1="225.5" x2="1135.8" y2="451.5" stroke="#777" stroke-width="1.1"/>
<line x1="1130.8" y1="225.5" x2="1140.8" y2="225.5" stroke="#555" stroke-width="1"/>
<line x1="1130.8" y1="451.5" x2="1140.8" y2="451.5" stroke="#555" stroke-width="1"/>
<rect x="1123.3" y="354.4" width="25" height="34.0" fill="#f79bc9" stroke="#444" stroke-width="0.8"/>
<line x1="1123.3" y1="376.3" x2="1148.3" y2="376.3" stroke="#222" stroke-width="1.4"/>
<line x1="1298.2" y1="218.6" x2="1298.2" y2="451.4" stroke="#777" stroke-width="1.1"/>
<line x1="1293.2" y1="218.6" x2="1303.2" y2="218.6" stroke="#555" stroke-width="1"/>
<line x1="1293.2" y1="451.4" x2="1303.2" y2="451.4" stroke="#555" stroke-width="1"/>
<rect x="1285.5" y="335.4" width="25.4" height="48.700000000000045" fill="#f79bc9" stroke="#444" stroke-width="0.8"/>
<line x1="1285.5" y1="363.4" x2="1310.9" y2="363.4" stroke="#222" stroke-width="1.4"/>
<line x1="1016.7" y1="202.9" x2="1016.7" y2="465.99999999999994" stroke="#444" stroke-width="1"/>
<line x1="1012.5" y1="461.79999999999995" x2="1418.5" y2="461.79999999999995" stroke="#444" stroke-width="1.1"/>
<line x1="1135.8" y1="461.79999999999995" x2="1135.8" y2="466.29999999999995" stroke="#444" stroke-width="1"/>
<line x1="1298.2" y1="461.79999999999995" x2="1298.2" y2="466.29999999999995" stroke="#444" stroke-width="1"/>
<rect x="1367.2" y="389.4" width="1.2" height="3" fill="#8a8a8a"/>
</svg>
<h2>
<span class="t" style="left:21.70px;top:37.80px;font-size:20.43px;line-height:25px;font-weight:700;color:#9a1c63;transform:scaleX(1.0444) translate(-1.00px,-18.58px);-webkit-text-stroke:0.9px #9a1c63;letter-spacing:-0.012em;">FINDINGS</span>
</h2>
<p>
<span class="t" style="left:21.20px;top:69.90px;font-size:16.74px;line-height:21px;font-weight:400;color:#141414;transform:scaleX(1.0072) translate(-0.75px,-16.05px);-webkit-text-stroke:0.25px #141414;letter-spacing:-0.025em;word-spacing:-0.06em;">Change in ISWTD from baseline to 3 mo was significantly better for</span>
</p>
<p>
<span class="t" style="left:21.50px;top:90.90px;font-size:16.74px;line-height:21px;font-weight:400;color:#141414;transform:scaleX(1.0405) translate(-0.25px,-16.05px);-webkit-text-stroke:0.25px #141414;letter-spacing:-0.025em;word-spacing:-0.06em;">the intervention group compared to the control group</span>
</p>
<p>
<span class="t" style="left:21.00px;top:474.20px;font-size:18.7px;line-height:23px;font-weight:700;color:#9a1c63;transform:scaleX(1.0994) translate(-0.00px,-18.48px);-webkit-text-stroke:0.9px #9a1c63;letter-spacing:-0.012em;">Adjusted</span>
 
<span class="t" style="left:111.20px;top:474.20px;font-size:18.7px;line-height:23px;font-weight:700;color:#9a1c63;transform:scaleX(1.1294) translate(-0.75px,-18.48px);-webkit-text-stroke:0.9px #9a1c63;letter-spacing:-0.012em;">mean</span>
 
<span class="t" style="left:168.30px;top:474.20px;font-size:18.7px;line-height:23px;font-weight:700;color:#9a1c63;transform:scaleX(1.1135) translate(-0.25px,-18.48px);-webkit-text-stroke:0.9px #9a1c63;letter-spacing:-0.012em;">difference</span>
 
<span class="t" style="left:270.00px;top:474.20px;font-size:18.7px;line-height:23px;font-weight:700;color:#9a1c63;transform:scaleX(1.1067) translate(-0.75px,-18.48px);-webkit-text-stroke:0.9px #9a1c63;letter-spacing:-0.012em;">in</span>
 
<span class="t" style="left:290.80px;top:474.20px;font-size:18.7px;line-height:23px;font-weight:700;color:#9a1c63;transform:scaleX(1.0688) translate(-0.25px,-18.48px);-webkit-text-stroke:0.9px #9a1c63;letter-spacing:-0.012em;">change</span>
 
<span class="t" style="left:364.20px;top:474.20px;font-size:18.7px;line-height:23px;font-weight:700;color:#9a1c63;transform:scaleX(1.1133) translate(-0.75px,-18.48px);-webkit-text-stroke:0.9px #9a1c63;letter-spacing:-0.012em;">in</span>
 
<span class="t" style="left:385.50px;top:474.20px;font-size:18.7px;line-height:23px;font-weight:700;color:#9a1c63;transform:scaleX(1.0948) translate(-0.75px,-18.48px);-webkit-text-stroke:0.9px #9a1c63;letter-spacing:-0.012em;">ISWTD,</span>
</p>
<p>
<span class="t" style="left:21.30px;top:495.40px;font-size:16.74px;line-height:21px;font-weight:400;color:#141414;transform:scaleX(1.0084) translate(-0.50px,-16.05px);-webkit-text-stroke:0.25px #141414;letter-spacing:-0.025em;word-spacing:-0.06em;">36.5 m (95% CI, 6.6-66.3 m); <i>P</i> = .02</span>
</p>
<span>
<span class="t" style="left:69.80px;top:137.40px;font-size:14.06px;line-height:17px;font-weight:400;color:#2a2a2a;transform:scaleX(1.0311) translate(-0.50px,-13.12px);-webkit-text-stroke:0.3px #2a2a2a;">500</span>
</span>
<span>
<span class="t" style="left:69.50px;top:174.35px;font-size:14.06px;line-height:17px;font-weight:400;color:#2a2a2a;transform:scaleX(1.0330) translate(-0.25px,-13.12px);-webkit-text-stroke:0.3px #2a2a2a;">400</span>
</span>
<span>
<span class="t" style="left:69.80px;top:211.30px;font-size:14.06px;line-height:17px;font-weight:400;color:#2a2a2a;transform:scaleX(1.0311) translate(-0.50px,-13.12px);-webkit-text-stroke:0.3px #2a2a2a;">300</span>
</span>
<span>
<span class="t" style="left:69.80px;top:248.25px;font-size:14.06px;line-height:17px;font-weight:400;color:#2a2a2a;transform:scaleX(1.0311) translate(-0.50px,-13.12px);-webkit-text-stroke:0.3px #2a2a2a;">200</span>
</span>
<span>
<span class="t" style="left:70.30px;top:285.20px;font-size:14.06px;line-height:17px;font-weight:400;color:#2a2a2a;transform:scaleX(1.0318) translate(-1.00px,-13.12px);-webkit-text-stroke:0.3px #2a2a2a;">100</span>
</span>
<span>
<span class="t" style="left:85.60px;top:322.15px;font-size:14.06px;line-height:17px;font-weight:400;color:#2a2a2a;transform:scaleX(1.0571) translate(-0.50px,-13.12px);-webkit-text-stroke:0.3px #2a2a2a;">0</span>
</span>
<span>
<span class="t" style="left:63.60px;top:359.10px;font-size:14.06px;line-height:17px;font-weight:400;color:#2a2a2a;transform:scaleX(1.0789) translate(-0.50px,-13.12px);-webkit-text-stroke:0.3px #2a2a2a;">-100</span>
</span>
<span>
<span class="t" style="left:63.60px;top:395.40px;font-size:14.06px;line-height:17px;font-weight:400;color:#2a2a2a;transform:scaleX(1.0789) translate(-0.50px,-13.12px);-webkit-text-stroke:0.3px #2a2a2a;">-200</span>
</span>
<span>
<span class="t" style="left:96.60px;top:407.90px;font-size:12.03px;line-height:15px;font-weight:400;color:#2a2a2a;transform:scaleX(1.0333) translate(-0.25px,-10.92px);-webkit-text-stroke:0.3px #2a2a2a;">0</span>
</span>
<span>
<span class="t" style="left:196.80px;top:410.20px;font-size:15.07px;line-height:19px;font-weight:400;color:#2a2a2a;transform:scaleX(0.9426) translate(-0.75px,-13.97px);-webkit-text-stroke:0.3px #2a2a2a;">Control</span>
</span>
<span>
<span class="t" style="left:344.30px;top:410.20px;font-size:15.07px;line-height:19px;font-weight:400;color:#2a2a2a;transform:scaleX(0.9660) translate(-1.25px,-13.97px);-webkit-text-stroke:0.3px #2a2a2a;">Intervention</span>
</span>
<span>
<span class="t" style="left:288.20px;top:430.70px;font-size:15.22px;line-height:19px;font-weight:400;color:#2a2a2a;transform:scaleX(0.9333) translate(-0.50px,-14.02px);-webkit-text-stroke:0.3px #2a2a2a;">Group</span>
</span>
<span>
<span class="t" style="left:35.40px;top:326.30px;font-size:15.07px;line-height:19px;font-weight:400;color:#2a2a2a;transform:rotate(-90deg) scaleX(0.9594) translate(-1.00px,-13.97px);-webkit-text-stroke:0.3px #2a2a2a;">Median change from</span>
</span>
<span>
<span class="t" style="left:53.40px;top:354.40px;font-size:15.07px;line-height:19px;font-weight:400;color:#2a2a2a;transform:rotate(-90deg) scaleX(0.9325) translate(-0.75px,-13.97px);-webkit-text-stroke:0.3px #2a2a2a;">baseline to 3 mo in ISWTD, m</span>
</span>
</section>
</main>
</body></html>
